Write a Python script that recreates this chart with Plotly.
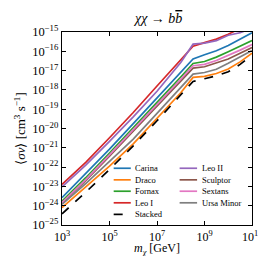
import plotly.graph_objects as go

# ---------------- data ----------------
mass = [1e3, 1e4, 1e5, 1e6, 1e7, 1e8, 3.3e8, 1e9, 3.16e9, 1e10, 3.16e10, 1e11]

series_names = ["Carina", "Draco", "Fornax", "Leo I", "Leo II",
                "Sculptor", "Sextans", "Ursa Minor", "Stacked"]

carina   = [-23.58, -22.35, -21.07, -19.75, -18.42, -17.05, -16.40, -16.18, -15.97, -15.70, -15.38, -15.04]
draco    = [-24.10, -23.05, -21.95, -20.80, -19.50, -18.15, -17.35, -17.30, -17.15, -16.92, -16.55, -16.10]
fornax   = [-23.77, -22.55, -21.27, -19.98, -18.65, -17.33, -16.63, -16.53, -16.30, -16.02, -15.74, -15.44]
leo_i    = [-22.90, -21.75, -20.48, -19.17, -17.80, -16.42, -15.74, -15.55, -15.37, -15.12, -14.80, -14.50]
leo_ii   = [-23.03, -21.90, -20.67, -19.40, -18.07, -16.58, -15.63, -15.58, -15.45, -15.17, -15.04, -14.80]
sculptor = [-23.88, -22.70, -21.43, -20.14, -18.83, -17.57, -16.87, -16.80, -16.62, -16.40, -16.10, -15.80]
sextans  = [-23.84, -22.65, -21.37, -20.08, -18.74, -17.45, -16.75, -16.68, -16.48, -16.22, -15.94, -15.65]
ursa_min = [-23.93, -22.85, -21.70, -20.55, -19.22, -17.90, -17.18, -17.10, -16.93, -16.62, -16.30, -15.96]
stacked  = [-24.42, -23.30, -22.12, -20.90, -19.60, -18.25, -17.56, -17.42, -17.27, -17.06, -16.68, -16.20]

series_logsv = [carina, draco, fornax, leo_i, leo_ii, sculptor, sextans, ursa_min, stacked]

x_tick_vals = [1e3, 1e5, 1e7, 1e9, 1e11]
x_tick_text = ["10<sup>3</sup>", "10<sup>5</sup>", "10<sup>7</sup>", "10<sup>9</sup>", "10<sup>11</sup>"]
y_exponents = [-25, -24, -23, -22, -21, -20, -19, -18, -17, -16, -15]

# ---------------- styling ----------------
colors = ["#1f77b4", "#ff7f0e", "#2ca02c", "#d62728", "#9467bd",
          "#8c564b", "#e377c2", "#7f7f7f", "black"]
dashes = ["solid"] * 8 + ["dash"]
FONT = "Liberation Serif"

fig = go.Figure()
for name, vals, col, dsh in zip(series_names, series_logsv, colors, dashes):
    fig.add_trace(go.Scatter(
        x=mass, y=[10 ** v for v in vals], mode="lines", name=name,
        line=dict(color=col, width=1.7, dash=dsh), showlegend=False,
        cliponaxis=True))

# manual compact legend (two columns, matplotlib-like spacing)
col1 = ["Carina", "Draco", "Fornax", "Leo I", "Stacked"]
col2 = ["Leo II", "Sculptor", "Sextans", "Ursa Minor"]
row_y = [0.294, 0.234, 0.175, 0.115, 0.055]
shapes = []
annotations = []
for names, x0, x1, xt in [(col1, 0.272, 0.362, 0.376), (col2, 0.619, 0.711, 0.725)]:
    for i, nm in enumerate(names):
        idx = series_names.index(nm)
        shapes.append(dict(type="line", xref="paper", yref="paper",
                           x0=x0, x1=x1, y0=row_y[i], y1=row_y[i],
                           line=dict(color=colors[idx], width=1.7, dash=dashes[idx])))
        annotations.append(dict(text=nm, xref="paper", yref="paper", x=xt, y=row_y[i],
                                xanchor="left", yanchor="middle", showarrow=False,
                                font=dict(family=FONT, size=8.5, color="black")))

# plot title
annotations.append(dict(
    text="<i>χχ</i> → <i>b<span style='text-decoration:overline'>b</span></i>",
    xref="paper", yref="paper", x=0.5, y=1.0, yshift=4,
    xanchor="center", yanchor="bottom", showarrow=False,
    font=dict(family=FONT, size=14, color="black")))

# x-axis title (as annotation so the subscript stays inside the picture)
annotations.append(dict(
    text="<i>m<sub>χ</sub></i> [GeV]",
    xref="paper", yref="paper", x=0.5, y=0.0, yshift=-24,
    xanchor="center", yanchor="middle", showarrow=False, borderpad=0,
    font=dict(family=FONT, size=12, color="black")))

fig.update_layout(
    width=266, height=256,
    margin=dict(l=54, r=18, t=24, b=39),
    paper_bgcolor="white", plot_bgcolor="white",
    font=dict(family=FONT, size=12, color="black"),
    shapes=shapes, annotations=annotations,
    showlegend=False,
)
fig.update_xaxes(
    type="log", range=[3, 11],
    tickvals=x_tick_vals, ticktext=x_tick_text,
    ticks="inside", ticklen=4, tickwidth=1, tickcolor="black",
    showline=True, linecolor="black", linewidth=1.3, mirror="ticks",
    showgrid=False, zeroline=False, ticklabeloverflow="allow",
    tickfont=dict(family=FONT, size=12),
)
fig.update_yaxes(
    type="log", range=[-25, -15],
    tickvals=[10 ** e for e in y_exponents],
    ticktext=["10<sup>−%d</sup>" % (-e) for e in y_exponents],
    ticks="inside", ticklen=4, tickwidth=1, tickcolor="black",
    showline=True, linecolor="black", linewidth=1.3, mirror="ticks",
    showgrid=False, zeroline=False,
    tickfont=dict(family=FONT, size=12.5),
    title=dict(text="⟨<i>σv</i>⟩ [cm<sup>3</sup> s<sup>−1</sup>]", standoff=3,
               font=dict(family=FONT, size=13)),
)

fig.write_html("out.html")
